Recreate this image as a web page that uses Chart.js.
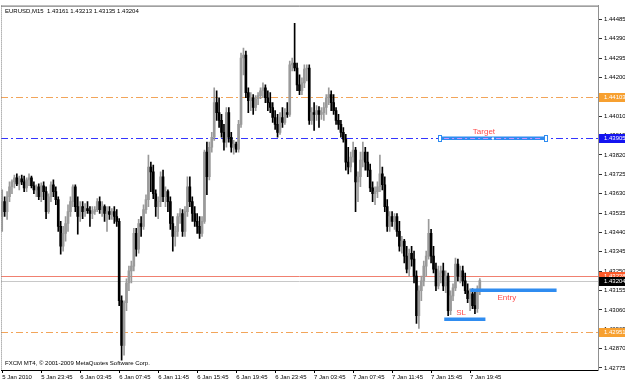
<!DOCTYPE html>
<html><head><meta charset="utf-8">
<script src="https://cdn.jsdelivr.net/npm/chart.js@4.4.1/dist/chart.umd.min.js"></script>
<style>html,body{margin:0;padding:0;background:#fff;overflow:hidden}canvas{display:block}</style>
</head><body>
<canvas id="c" width="625" height="381"></canvas>
<script>
const symbolTitle = 'EURUSD,M15  1.43161 1.43213 1.43135 1.43204';
const copyrightText = 'FXCM MT4, \u00A9 2001-2009 MetaQuotes Software Corp.';

const openP = [
1.43518,1.43591,1.43542,1.43615,1.43664,1.43688,1.43708,1.43678,1.43703,1.43688,
1.43659,1.43698,1.43708,1.43669,1.43649,1.43664,1.43615,1.43669,1.43640,1.43542,
1.43615,1.43674,1.43640,1.43601,1.43470,1.43372,1.43435,1.43484,1.43542,1.43591,
1.43664,1.43567,1.43518,1.43567,1.43542,1.43557,1.43547,1.43533,1.43542,1.43552,
1.43591,1.43552,1.43567,1.43533,1.43542,1.43528,1.43542,1.43518,1.43494,1.43105,
1.42886,1.43095,1.43192,1.43251,1.43275,1.43435,1.43358,1.43484,1.43470,1.43552,
1.43601,1.43761,1.43737,1.43630,1.43567,1.43591,1.43713,1.43615,1.43640,1.43591,
1.43484,1.43421,1.43445,1.43518,1.43533,1.43445,1.43542,1.43664,1.43591,1.43533,
1.43494,1.43470,1.43435,1.43494,1.43834,1.43713,1.43858,1.43907,1.44077,1.44028,
1.43990,1.43931,1.43883,1.44028,1.43907,1.43858,1.43873,1.43849,1.43970,1.44296,
1.44310,1.44126,1.44087,1.44101,1.44053,1.44096,1.44111,1.44135,1.44150,1.44101,
1.44077,1.44053,1.44004,1.43970,1.43931,1.44004,1.43980,1.44028,1.44019,1.44262,
1.44271,1.44247,1.44164,1.44135,1.44174,1.44242,1.44247,1.43990,1.44028,1.44019,
1.44038,1.44019,1.44028,1.44053,1.44101,1.44116,1.44077,1.44038,1.43990,1.43970,
1.43931,1.43897,1.43785,1.43761,1.43810,1.43844,1.43688,1.43713,1.43795,1.43834,
1.43785,1.43746,1.43659,1.43630,1.43640,1.43664,1.43727,1.43674,1.43567,1.43470,
1.43518,1.43494,1.43518,1.43445,1.43372,1.43397,1.43324,1.43260,1.43338,1.43309,
1.43226,1.43032,1.43154,1.43202,1.43275,1.43324,1.43435,1.43324,1.43260,1.43178,
1.43241,1.43251,1.43178,1.43226,1.43056,1.43129,1.43168,1.43285,1.43226,1.43251,
1.43202,1.43154,1.43115,1.43139,1.43081,1.43066,1.43161];

const highP = [
1.43649,1.43615,1.43640,1.43688,1.43698,1.43722,1.43727,1.43717,1.43722,1.43717,
1.43708,1.43727,1.43717,1.43688,1.43674,1.43678,1.43683,1.43688,1.43664,1.43630,
1.43688,1.43698,1.43664,1.43615,1.43494,1.43470,1.43518,1.43576,1.43615,1.43674,
1.43674,1.43615,1.43591,1.43591,1.43581,1.43591,1.43567,1.43567,1.43567,1.43606,
1.43615,1.43591,1.43576,1.43567,1.43567,1.43557,1.43567,1.43552,1.43508,1.43129,
1.43105,1.43212,1.43275,1.43299,1.43460,1.43460,1.43504,1.43518,1.43576,1.43625,
1.43819,1.43785,1.43771,1.43649,1.43615,1.43737,1.43746,1.43664,1.43649,1.43615,
1.43518,1.43470,1.43533,1.43557,1.43552,1.43567,1.43713,1.43713,1.43615,1.43567,
1.43533,1.43518,1.43518,1.43844,1.43883,1.43883,1.43931,1.44150,1.44135,1.44101,
1.44019,1.43970,1.44053,1.44053,1.43931,1.43892,1.43883,1.43990,1.44320,1.44344,
1.44330,1.44150,1.44126,1.44116,1.44111,1.44126,1.44150,1.44174,1.44164,1.44135,
1.44126,1.44077,1.44038,1.44019,1.44028,1.44053,1.44048,1.44077,1.44281,1.44296,
1.44466,1.44271,1.44213,1.44198,1.44262,1.44262,1.44262,1.44053,1.44077,1.44062,
1.44058,1.44053,1.44077,1.44116,1.44150,1.44135,1.44116,1.44053,1.44019,1.43990,
1.43955,1.43921,1.43858,1.43834,1.43883,1.43858,1.43737,1.43834,1.43883,1.43858,
1.43834,1.43776,1.43688,1.43664,1.43688,1.43819,1.43761,1.43713,1.43601,1.43542,
1.43542,1.43533,1.43533,1.43494,1.43421,1.43406,1.43372,1.43358,1.43372,1.43348,
1.43251,1.43178,1.43226,1.43299,1.43348,1.43504,1.43455,1.43372,1.43290,1.43275,
1.43275,1.43290,1.43251,1.43241,1.43154,1.43188,1.43314,1.43309,1.43275,1.43275,
1.43241,1.43188,1.43163,1.43163,1.43154,1.43178,1.43213];

const lowP = [
1.43445,1.43518,1.43504,1.43591,1.43630,1.43659,1.43669,1.43649,1.43674,1.43640,
1.43640,1.43669,1.43659,1.43630,1.43615,1.43601,1.43591,1.43601,1.43508,1.43533,
1.43591,1.43615,1.43576,1.43445,1.43333,1.43348,1.43397,1.43445,1.43518,1.43567,
1.43542,1.43431,1.43494,1.43508,1.43518,1.43533,1.43470,1.43508,1.43528,1.43542,
1.43533,1.43518,1.43494,1.43445,1.43504,1.43504,1.43484,1.43470,1.43081,1.42813,
1.42838,1.43056,1.43154,1.43192,1.43251,1.43324,1.43338,1.43421,1.43455,1.43533,
1.43567,1.43640,1.43606,1.43518,1.43508,1.43567,1.43591,1.43567,1.43542,1.43455,
1.43348,1.43372,1.43421,1.43484,1.43421,1.43421,1.43518,1.43567,1.43494,1.43470,
1.43435,1.43411,1.43421,1.43484,1.43625,1.43698,1.43834,1.43892,1.43990,1.43955,
1.43907,1.43844,1.43858,1.43883,1.43834,1.43824,1.43834,1.43834,1.43955,1.44213,
1.44101,1.44028,1.44038,1.44019,1.44038,1.44067,1.44096,1.44101,1.44077,1.44038,
1.44028,1.43980,1.43946,1.43907,1.43921,1.43955,1.43970,1.44004,1.44009,1.44232,
1.44232,1.44135,1.44116,1.44116,1.44150,1.44184,1.43970,1.43970,1.43941,1.43990,
1.43955,1.43994,1.43990,1.44019,1.44067,1.44038,1.44019,1.43970,1.43946,1.43907,
1.43883,1.43746,1.43727,1.43737,1.43785,1.43542,1.43591,1.43664,1.43761,1.43746,
1.43713,1.43640,1.43591,1.43576,1.43610,1.43640,1.43649,1.43542,1.43445,1.43445,
1.43470,1.43455,1.43421,1.43348,1.43338,1.43290,1.43241,1.43226,1.43275,1.43192,
1.42993,1.42969,1.43105,1.43178,1.43226,1.43309,1.43290,1.43241,1.43154,1.43163,
1.43192,1.43154,1.43144,1.43032,1.43037,1.43105,1.43154,1.43202,1.43192,1.43178,
1.43139,1.43095,1.43056,1.43066,1.43042,1.43047,1.43135];

const closeP = [
1.43591,1.43542,1.43615,1.43664,1.43688,1.43708,1.43678,1.43703,1.43688,1.43659,
1.43698,1.43708,1.43669,1.43649,1.43664,1.43615,1.43669,1.43640,1.43542,1.43615,
1.43674,1.43640,1.43601,1.43470,1.43372,1.43435,1.43484,1.43542,1.43591,1.43664,
1.43567,1.43518,1.43567,1.43542,1.43557,1.43547,1.43533,1.43542,1.43552,1.43591,
1.43552,1.43567,1.43533,1.43542,1.43528,1.43542,1.43518,1.43494,1.43105,1.42886,
1.43095,1.43192,1.43251,1.43275,1.43435,1.43358,1.43484,1.43470,1.43552,1.43601,
1.43761,1.43737,1.43630,1.43567,1.43591,1.43713,1.43615,1.43640,1.43591,1.43484,
1.43421,1.43445,1.43518,1.43533,1.43445,1.43542,1.43664,1.43591,1.43533,1.43494,
1.43470,1.43435,1.43494,1.43834,1.43713,1.43858,1.43907,1.44077,1.44028,1.43990,
1.43931,1.43883,1.44028,1.43907,1.43858,1.43873,1.43849,1.43970,1.44296,1.44310,
1.44126,1.44087,1.44101,1.44053,1.44096,1.44111,1.44135,1.44150,1.44101,1.44077,
1.44053,1.44004,1.43970,1.43931,1.44004,1.43980,1.44028,1.44019,1.44262,1.44271,
1.44247,1.44164,1.44135,1.44174,1.44242,1.44247,1.43990,1.44028,1.44019,1.44038,
1.44019,1.44028,1.44053,1.44101,1.44116,1.44077,1.44038,1.43990,1.43970,1.43931,
1.43897,1.43785,1.43761,1.43810,1.43844,1.43688,1.43713,1.43795,1.43834,1.43785,
1.43746,1.43659,1.43630,1.43640,1.43664,1.43727,1.43674,1.43567,1.43470,1.43518,
1.43494,1.43518,1.43445,1.43372,1.43397,1.43324,1.43260,1.43338,1.43309,1.43226,
1.43032,1.43154,1.43202,1.43275,1.43324,1.43435,1.43324,1.43260,1.43178,1.43241,
1.43251,1.43178,1.43226,1.43056,1.43129,1.43168,1.43285,1.43226,1.43251,1.43202,
1.43154,1.43115,1.43139,1.43081,1.43066,1.43163,1.43204];

const tickBars = [0,16,32,48,64,80,96,112,128,144,160,176,192];
const tickLabels = ['5 Jan 2010','5 Jan 23:45','6 Jan 03:45','6 Jan 07:45','6 Jan 11:45','6 Jan 15:45',
  '6 Jan 19:45','6 Jan 23:45','7 Jan 03:45','7 Jan 07:45','7 Jan 11:45','7 Jan 15:45','7 Jan 19:45'];
const yTicks = [1.42775,1.42870,1.42965,1.43060,1.43155,1.43250,1.43345,1.43440,1.43535,1.43630,
  1.43725,1.43820,1.43915,1.44010,1.44105,1.44200,1.44295,1.44390,1.44485];
const yMin = 1.42765, yMax = 1.44553;
const slotCount = 245;

const levelPrices = [1.44103, 1.43905, 1.43228, 1.43204, 1.42951];
const levelLabels = ['1.44103', '1.43905', '1.43228', '1.43204', '1.42951'];

const segNames = ['Target', 'Entry', 'SL'];
const segPrices = [1.43905, 1.43158, 1.43017];
const segFrom = [179.7, 192.1, 181.4];
const segTo = [223.0, 227.5, 198.3];
const segTextBar = [197.7, 207.1, 188.3];

// ---- styles ----
const FONT = "'Liberation Sans',Arial,sans-serif";
const FS = 6;
const upColor = '#9a9a9a', downColor = '#000000';
const levelStyles = [
  {color:'#f2a55a', dash:[7,3,2,3], box:'#f7a030'},
  {color:'#3434ff', dash:[7,3,2,3], box:'#1414f0'},
  {color:'#f08070', dash:[], box:'#ff5a28'},
  {color:'#c8c8c8', dash:[], box:'#000000'},
  {color:'#f2a55a', dash:[7,3,2,3], box:'#f7a030'}
];
const segColor = '#2f8cf0', segTextColor = '#ff4a4a';
const segTextDy = [-6, 8, -6];

const wickData = lowP.map((l, i) => [l, highP[i]]);
const bodyData = openP.map((o, i) => [o, closeP[i]]);
const candleColors = openP.map((o, i) => closeP[i] >= o ? upColor : downColor);

const overlay = {
  id: 'overlay',
  beforeDatasetsDraw(chart) {
    const {ctx, chartArea: a, scales: {y}} = chart;
    ctx.save();
    ctx.beginPath(); ctx.rect(a.left, a.top, a.right - a.left, a.bottom - a.top); ctx.clip();
    levelPrices.forEach((p, i) => {
      const py = Math.round(y.getPixelForValue(p)) + 0.5;
      ctx.strokeStyle = levelStyles[i].color; ctx.lineWidth = 1;
      ctx.setLineDash(levelStyles[i].dash);
      ctx.beginPath(); ctx.moveTo(a.left, py); ctx.lineTo(a.right, py); ctx.stroke();
    });
    ctx.restore();
  },
  afterDatasetsDraw(chart) {
    const {ctx, chartArea: a, scales: {x, y}} = chart;
    ctx.save();
    segPrices.forEach((p, i) => {
      const py = Math.round(y.getPixelForValue(p));
      const x1 = x.getPixelForValue(segFrom[i]), x2 = x.getPixelForValue(segTo[i]);
      ctx.setLineDash([]);
      ctx.fillStyle = segColor;
      ctx.fillRect(x1, py - 1.5, x2 - x1, 3.5);
      if (i === 0) {
        ctx.strokeStyle = '#c890ff'; ctx.lineWidth = 1; ctx.setLineDash([5,3,2,3]);
        ctx.beginPath(); ctx.moveTo(x1 + 4, py + 0.5); ctx.lineTo(x2 - 4, py + 0.5); ctx.stroke();
        ctx.setLineDash([]);
        ctx.fillStyle = '#ffffff'; ctx.strokeStyle = segColor; ctx.lineWidth = 1;
        [x1, x2].forEach(hx => { const rx = Math.round(hx) - 1.5; ctx.fillRect(rx, py - 2.5, 3, 6); ctx.strokeRect(rx, py - 2.5, 3, 6); });
        const mx = Math.round((x1 + x2) / 2);
        ctx.fillRect(mx - 1, py - 0.5, 2, 2);
      }
      ctx.fillStyle = segTextColor;
      ctx.font = "8px 'Liberation Sans',sans-serif";
      ctx.textAlign = 'center'; ctx.textBaseline = 'middle';
      ctx.fillText(segNames[i], x.getPixelForValue(segTextBar[i]), py + segTextDy[i]);
    });
    ctx.restore();
  },
  afterDraw(chart) {
    const {ctx, chartArea: a, scales: {y}} = chart;
    ctx.save();
    // frame
    ctx.strokeStyle = '#606060'; ctx.lineWidth = 1;
    ctx.beginPath(); ctx.moveTo(a.left, a.top + 0.5); ctx.lineTo(a.right, a.top + 0.5); ctx.stroke();
    ctx.setLineDash([1, 1]); ctx.strokeStyle = '#808080';
    ctx.beginPath(); ctx.moveTo(a.left + 0.5, a.top); ctx.lineTo(a.left + 0.5, a.bottom); ctx.stroke();
    ctx.setLineDash([]);
    // price boxes
    ctx.font = FS + 'px ' + FONT;
    ctx.textBaseline = 'middle'; ctx.textAlign = 'left';
    levelPrices.forEach((p, i) => {
      const py = Math.round(y.getPixelForValue(p));
      ctx.fillStyle = levelStyles[i].box;
      ctx.fillRect(a.right + 1, py - 4, chart.width - a.right - 1, 9);
      ctx.fillStyle = '#ffffff';
      ctx.fillText(levelLabels[i], a.right + 6, py + 0.5);
    });
    // title & copyright
    ctx.fillStyle = '#000000'; ctx.textBaseline = 'top';
    ctx.fillText(symbolTitle, a.left + 4, a.top + 3);
    ctx.fillText(copyrightText, a.left + 4, a.bottom - 10);
    ctx.restore();
  }
};

new Chart(document.getElementById('c').getContext('2d'), {
  type: 'bar',
  data: {
    labels: Array.from({length: slotCount}, (_, i) => String(i)),
    datasets: [
      {data: wickData, backgroundColor: candleColors, barThickness: 1, grouped: false, order: 2, borderWidth: 0},
      {data: bodyData, backgroundColor: candleColors, barThickness: 2, grouped: false, order: 1, borderWidth: 0, minBarLength: 1}
    ]
  },
  options: {
    responsive: false, animation: false, devicePixelRatio: 1,
    layout: {padding: {left: 1, top: 2, right: 0, bottom: 0}},
    plugins: {legend: {display: false}, tooltip: {enabled: false}, title: {display: false}},
    scales: {
      x: {
        type: 'category', offset: true,
        grid: {drawOnChartArea: false, drawTicks: true, tickLength: 3, offset: false, color: '#000000'},
        border: {display: true, color: '#000000'},
        ticks: {autoSkip: false, maxRotation: 0, minRotation: 0, align: 'start', padding: 1,
          color: '#000000', font: {size: FS, family: FONT},
          callback: (v) => { const k = tickBars.indexOf(v); return k >= 0 ? tickLabels[k] : ''; }},
        afterBuildTicks: (s) => { s.ticks = tickBars.map(v => ({value: v})); },
        afterFit: (s) => { s.height = 11; }
      },
      y: {
        position: 'right', min: yMin, max: yMax,
        grid: {drawOnChartArea: false, drawTicks: true, tickLength: 4, color: '#303030'},
        border: {display: true, color: '#909090'},
        ticks: {padding: 2, color: '#000000', font: {size: FS, family: FONT}, callback: (v) => v.toFixed(5)},
        afterBuildTicks: (s) => { s.ticks = yTicks.map(v => ({value: v})); },
        afterFit: (s) => { s.width = 27; }
      }
    }
  },
  plugins: [overlay]
});
</script>
</body></html>
